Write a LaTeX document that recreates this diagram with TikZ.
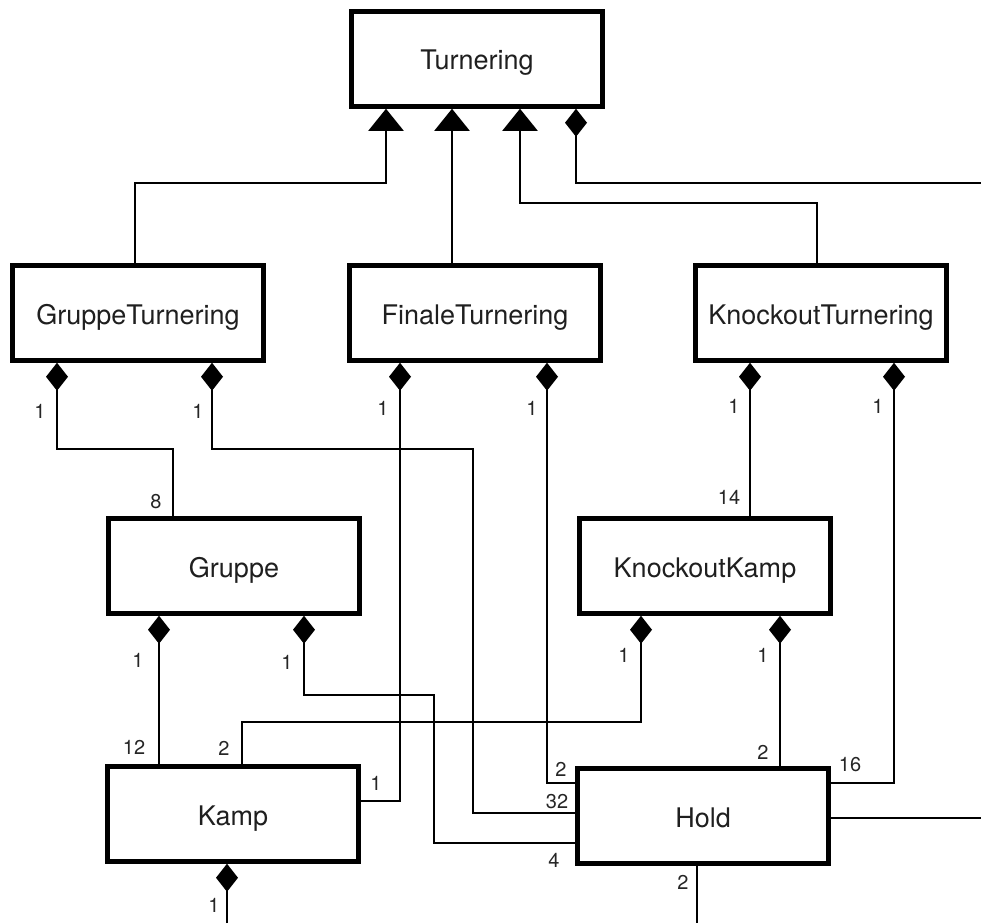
\documentclass[tikz,border=0pt]{standalone}
\usepackage{fontspec}
\setmainfont{TeX Gyre Heros}
\usetikzlibrary{arrows.meta}
\begin{document}
\begin{tikzpicture}[x=1pt,y=-1pt,
  cls/.style={draw, line width=4.5pt, minimum width=251pt, minimum height=95pt,
    inner sep=0pt, text height=30pt, text depth=8pt,
    font=\fontsize{27}{31}\selectfont, text=black!88},
  card/.style={font=\fontsize{20}{24}\selectfont, text=black!85, inner sep=0pt},
  link/.style={line width=2pt},
  inh/.style={link, -{Triangle[width=35pt,length=22pt]}},
  comp/.style={link, -{Diamond[width=22pt,length=28pt]}},
]
\useasboundingbox (0,0) rectangle (981,923);

% classes
\node[cls] (tur)  at (477,59)  {Turnering};
\node[cls] (gt)   at (138,313) {GruppeTurnering};
\node[cls] (ft)   at (475,313) {FinaleTurnering};
\node[cls] (kt)   at (821,313) {KnockoutTurnering};
\node[cls] (gr)   at (234,566) {Gruppe};
\node[cls] (kk)   at (705,566) {KnockoutKamp};
\node[cls] (kamp) at (233,814) {Kamp};
\node[cls] (hold) at (703,816) {Hold};

% bend points
\coordinate (p1a) at (135,183);  \coordinate (p1b) at (386,183);
\coordinate (p2)  at (452,0);
\coordinate (p3a) at (817,203);  \coordinate (p3b) at (520,203);
\coordinate (e1)  at (981,183);  \coordinate (p4)  at (576,183);
\coordinate (p5a) at (173,449);  \coordinate (p5b) at (57,449);
\coordinate (p6a) at (473,813);  \coordinate (p6b) at (473,449); \coordinate (p6c) at (212,449);
\coordinate (p7a) at (400,801);
\coordinate (p8a) at (547,783);
\coordinate (p9)  at (750,0);
\coordinate (p10) at (894,783);
\coordinate (p11) at (159,0);
\coordinate (p12a) at (434,843); \coordinate (p12b) at (434,695); \coordinate (p12c) at (304,695);
\coordinate (p13a) at (242,722); \coordinate (p13b) at (641,722);
\coordinate (p14) at (780,0);
\coordinate (e2)  at (981,818);
\coordinate (e3)  at (697,923);
\coordinate (e4)  at (227,923);

% generalisations
\draw[inh] (gt.north -| p1a) -- (p1a) -- (p1b) -- (p1b |- tur.south);
\draw[inh] (ft.north -| p2) -- (p2 |- tur.south);
\draw[inh] (kt.north -| p3a) -- (p3a) -- (p3b) -- (p3b |- tur.south);

% compositions
\draw[comp] (e1) -- (p4) -- (p4 |- tur.south);
\draw[comp] (gr.north -| p5a) -- (p5a) -- (p5b) -- (p5b |- gt.south);
\draw[comp] (hold.west |- p6a) -- (p6a) -- (p6b) -- (p6c) -- (p6c |- gt.south);
\draw[comp] (kamp.east |- p7a) -- (p7a) -- (p7a |- ft.south);
\draw[comp] (hold.west |- p8a) -- (p8a) -- (p8a |- ft.south);
\draw[comp] (kk.north -| p9) -- (p9 |- kt.south);
\draw[comp] (hold.east |- p10) -- (p10) -- (p10 |- kt.south);
\draw[comp] (kamp.north -| p11) -- (p11 |- gr.south);
\draw[comp] (hold.west |- p12a) -- (p12a) -- (p12b) -- (p12c) -- (p12c |- gr.south);
\draw[comp] (kamp.north -| p13a) -- (p13a) -- (p13b) -- (p13b |- kk.south);
\draw[comp] (hold.north -| p14) -- (p14 |- kk.south);
\draw[comp] (e4) -- (e4 |- kamp.south);
\draw[link] (hold.east |- e2) -- (e2);
\draw[link] (hold.south -| e3) -- (e3);

% multiplicities
\node[card] (m1)  at (40,411)  {1};
\node[card] (m2)  at (198,411) {1};
\node[card] (m3)  at (156,502) {8};
\node[card] (m4)  at (383,408) {1};
\node[card] (m5)  at (532,408) {1};
\node[card] (m6)  at (734,406) {1};
\node[card] (m7)  at (878,406) {1};
\node[card] (m8)  at (729,497) {14};
\node[card] (m9)  at (138,660) {1};
\node[card] (m10) at (287,662) {1};
\node[card] (m11) at (134,747) {12};
\node[card] (m12) at (224,748) {2};
\node[card] (m13) at (376,783) {1};
\node[card] (m14) at (214,905) {1};
\node[card] (m15) at (624,655) {1};
\node[card] (m16) at (763,655) {1};
\node[card] (m17) at (763,752) {2};
\node[card] (m18) at (850,765) {16};
\node[card] (m19) at (561,769) {2};
\node[card] (m20) at (557,802) {32};
\node[card] (m21) at (554,860) {4};
\node[card] (m22) at (683,882) {2};
\end{tikzpicture}
\end{document}
